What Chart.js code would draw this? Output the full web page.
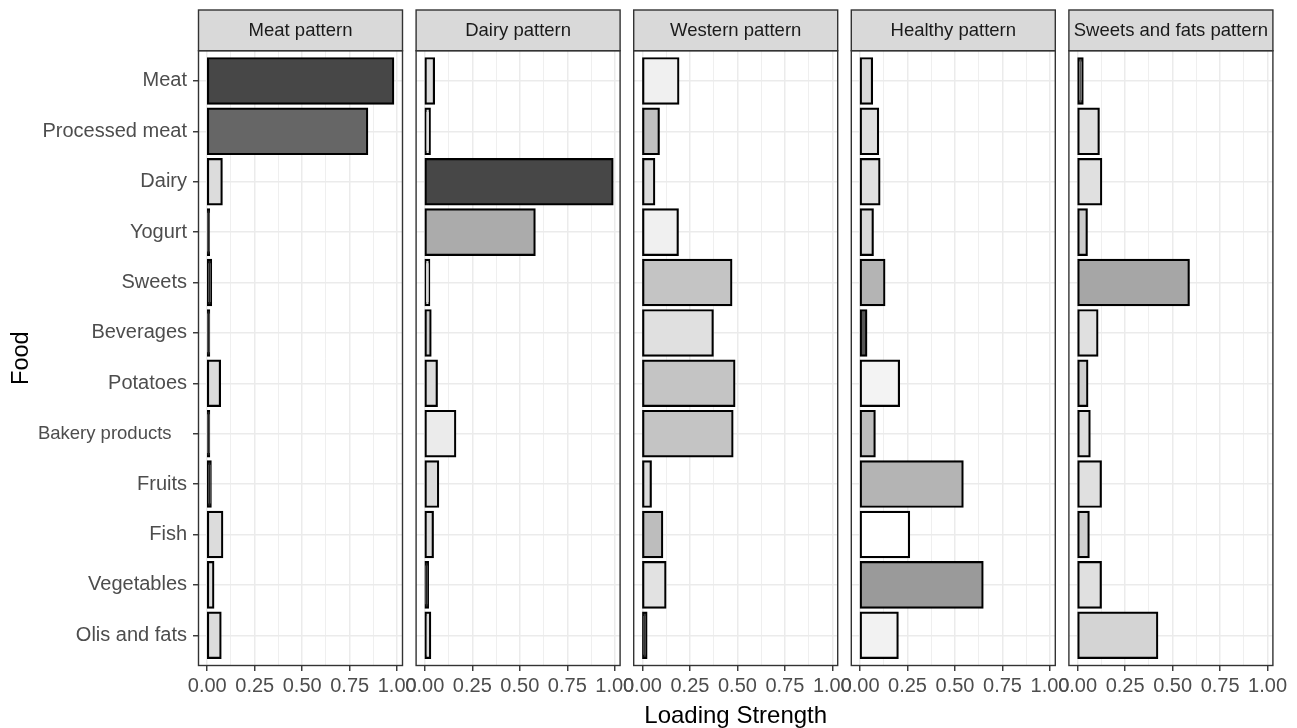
<!DOCTYPE html>
<html><head><meta charset="utf-8">
<script src="https://cdn.jsdelivr.net/npm/chart.js@4.4.1/dist/chart.umd.min.js"></script>
<style>
html,body{margin:0;padding:0;background:#fff;}
#wrap{position:relative;width:1297px;height:728px;overflow:hidden;background:#fff;}
#wrap canvas{position:absolute;top:0;}
</style></head><body><div id="wrap"></div>
<script>
// ---------- data ----------
const foods = ["Meat","Processed meat","Dairy","Yogurt","Sweets","Beverages","Potatoes","Bakery products   ","Fruits","Fish","Vegetables","Olis and fats"];
const patterns = ["Meat pattern","Dairy pattern","Western pattern","Healthy pattern","Sweets and fats pattern"];
const meatPattern       = [0.979,0.842,0.076,0.009,0.020,0.010,0.067,0.010,0.018,0.079,0.032,0.070];
const dairyPattern      = [0.048,0.026,0.988,0.578,0.023,0.030,0.063,0.160,0.070,0.042,0.016,0.028];
const westernPattern    = [0.189,0.086,0.062,0.186,0.468,0.370,0.484,0.474,0.044,0.104,0.121,0.021];
const healthyPattern    = [0.063,0.095,0.102,0.067,0.128,0.033,0.205,0.077,0.540,0.258,0.645,0.198];
const sweetsFatsPattern = [0.026,0.111,0.124,0.048,0.585,0.104,0.051,0.063,0.122,0.058,0.122,0.419];
const xMajorTicks = [0, 0.25, 0.5, 0.75, 1.0];
const xMinorTicks = [0.125, 0.375, 0.625, 0.875];

// ---------- styles ----------
const meatFill    = ["#474747","#666666","#dcdcdc","#222222","#222222","#222222","#dcdcdc","#222222","#222222","#dcdcdc","#dcdcdc","#dcdcdc"];
const dairyFill   = ["#dcdcdc","#e0e0e0","#474747","#ababab","#dcdcdc","#cccccc","#dcdcdc","#ebebeb","#dcdcdc","#dcdcdc","#222222","#dcdcdc"];
const westernFill = ["#f0f0f0","#c0c0c0","#dcdcdc","#f0f0f0","#c4c4c4","#e0e0e0","#c4c4c4","#c4c4c4","#dcdcdc","#bdbdbd","#e2e2e2","#333333"];
const healthyFill = ["#d9d9d9","#e0e0e0","#e0e0e0","#d9d9d9","#b4b4b4","#555555","#f3f3f3","#bdbdbd","#b4b4b4","#ffffff","#9a9a9a","#f2f2f2"];
const sweetsFill  = ["#555555","#e0e0e0","#e0e0e0","#cccccc","#a6a6a6","#e0e0e0","#cfcfcf","#dcdcdc","#e0e0e0","#cfcfcf","#e0e0e0","#d4d4d4"];

const seriesValues = [meatPattern, dairyPattern, westernPattern, healthyPattern, sweetsFatsPattern];
const seriesFills = [meatFill, dairyFill, westernFill, healthyFill, sweetsFill];

const FONT = '"Liberation Sans", Arial, Helvetica, sans-serif';
const PANEL_LEFTS = [198.5, 416.1, 633.7, 851.3, 1068.9];
const PANEL_W = 204;
const PLOT_TOP = 50.7;
const PLOT_BOTTOM = 665.5;
const STRIP_TOP = 10;
const H = 728;

const decorPlugin = {
  id: 'decor',
  afterDraw(chart, args, opts) {
    const ctx = chart.ctx;
    const a = chart.chartArea;
    ctx.save();
    // strip
    ctx.fillStyle = '#d9d9d9';
    ctx.fillRect(a.left, STRIP_TOP, a.right - a.left, a.top - STRIP_TOP);
    ctx.strokeStyle = '#333333';
    ctx.lineWidth = 1.4;
    ctx.strokeRect(a.left, STRIP_TOP, a.right - a.left, a.top - STRIP_TOP);
    ctx.fillStyle = '#1a1a1a';
    ctx.font = '18.5px ' + FONT;
    ctx.textAlign = 'center';
    ctx.textBaseline = 'middle';
    ctx.fillText(opts.strip, (a.left + a.right) / 2, (STRIP_TOP + a.top) / 2 + 0.3);
    // panel border
    ctx.strokeRect(a.left, a.top, a.right - a.left, a.bottom - a.top);
    // axis titles
    if (opts.yTitle) {
      ctx.fillStyle = '#000';
      ctx.font = '23.5px ' + FONT;
      ctx.translate(opts.yTitleX, (a.top + a.bottom) / 2);
      ctx.rotate(-Math.PI / 2);
      ctx.textAlign = 'center';
      ctx.textBaseline = 'alphabetic';
      ctx.fillText(opts.yTitle, 0, 0);
      ctx.setTransform(1, 0, 0, 1, 0, 0);
    }
    if (opts.xTitle) {
      ctx.fillStyle = '#000';
      ctx.font = '24px ' + FONT;
      ctx.textAlign = 'center';
      ctx.textBaseline = 'alphabetic';
      ctx.fillText(opts.xTitle, opts.xTitleX, opts.xTitleY);
    }
    ctx.restore();
  }
};

const wrap = document.getElementById('wrap');
const xCenterAll = (PANEL_LEFTS[0] + PANEL_LEFTS[4] + PANEL_W) / 2;

patterns.forEach((name, p) => {
  const first = p === 0;
  const canvasLeft = first ? 0 : Math.round(PANEL_LEFTS[p]) - 40;
  const canvasW = first ? Math.ceil(PANEL_LEFTS[0] + PANEL_W + 40) : 290;
  const padLeft = first ? 0 : PANEL_LEFTS[p] - canvasLeft;
  const padRight = canvasW - (PANEL_LEFTS[p] - canvasLeft) - PANEL_W;
  const cv = document.createElement('canvas');
  cv.width = canvasW; cv.height = H;
  cv.style.left = canvasLeft + 'px';
  cv.style.width = canvasW + 'px'; cv.style.height = H + 'px';
  wrap.appendChild(cv);

  const values = seriesValues[p];
  new Chart(cv, {
    type: 'bar',
    data: {
      datasets: [{
        data: values.map((v, i) => ({ x: v, y: i + 1 })),
        backgroundColor: seriesFills[p],
        borderColor: '#000000',
        borderWidth: 2.2,
        borderSkipped: false,
        inflateAmount: 1.1,
        categoryPercentage: 0.9,
        barPercentage: 1.0
      }]
    },
    options: {
      indexAxis: 'y',
      responsive: false,
      animation: false,
      devicePixelRatio: 1,
      layout: { padding: { left: padLeft, right: padRight, top: PLOT_TOP, bottom: 0 } },
      plugins: {
        legend: { display: false },
        tooltip: { enabled: false },
        decor: {
          strip: name,
          yTitle: first ? 'Food' : null,
          yTitleX: 28,
          xTitle: p === 2 ? 'Loading Strength' : null,
          xTitleX: xCenterAll - canvasLeft,
          xTitleY: 723
        }
      },
      scales: {
        x: {
          type: 'linear',
          position: 'bottom',
          offset: false,
          min: -0.046,
          max: 1.028,
          afterBuildTicks(scale) {
            scale.ticks = xMajorTicks.concat(xMinorTicks).sort((a, b) => a - b).map(v => ({ value: v }));
          },
          afterFit(scale) { scale.height = H - PLOT_BOTTOM; },
          border: { display: false },
          grid: {
            offset: false,
            color: '#ebebeb',
            lineWidth: (c) => (c.tick && xMinorTicks.includes(c.tick.value)) ? 0.8 : 1.5,
            drawTicks: true,
            tickLength: 5.5,
            tickWidth: 1.4,
            tickColor: (c) => (c.tick && xMinorTicks.includes(c.tick.value)) ? 'rgba(0,0,0,0)' : '#333333'
          },
          ticks: {
            autoSkip: false,
            maxRotation: 0,
            minRotation: 0,
            padding: 3,
            color: '#4d4d4d',
            font: { family: FONT, size: 20, lineHeight: 1.2 },
            callback: (v) => xMajorTicks.includes(v) ? v.toFixed(2) : ''
          }
        },
        y: {
          type: 'linear',
          position: 'left',
          offset: false,
          reverse: true,
          min: 0.4,
          max: 12.6,
          afterBuildTicks(scale) {
            scale.ticks = foods.map((f, i) => ({ value: i + 1 }));
          },
          afterFit(scale) { scale.width = first ? PANEL_LEFTS[0] : 0; },
          border: { display: false },
          grid: {
            offset: false,
            color: '#ebebeb',
            lineWidth: 1.5,
            drawTicks: first,
            tickLength: 5.5,
            tickWidth: 1.4,
            tickColor: '#333333'
          },
          ticks: {
            display: first,
            autoSkip: false,
            padding: 6,
            color: '#4d4d4d',
            font: (c) => ({ family: FONT, size: (c.index === 7 ? 18.5 : 20), lineHeight: 1.2 }),
            callback: (v) => foods[v - 1]
          }
        }
      }
    },
    plugins: [decorPlugin]
  });
});
</script>
</body></html>
